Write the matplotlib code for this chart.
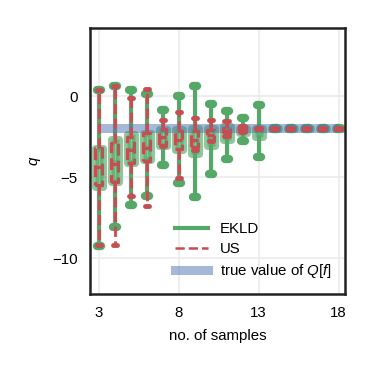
import numpy as np
import matplotlib
matplotlib.use("Agg")
import matplotlib.pyplot as plt
from matplotlib.lines import Line2D

plt.rcParams['font.family'] = ['Liberation Sans', 'DejaVu Sans']
plt.rcParams['mathtext.fontset'] = 'custom'
plt.rcParams['mathtext.rm'] = 'Liberation Sans'
plt.rcParams['mathtext.it'] = 'Liberation Sans:italic'

# number of samples
n_samples = [3, 4, 5, 6, 7, 8, 9, 10, 11, 12, 13, 14, 15, 16, 17, 18]

# EKLD box statistics
ekld_max = [0.36, 0.6, 0.36, 0.15, -0.83, -0.01, 0.6, -0.5, -0.9, -1.35, -0.52, -1.95, -1.95, -1.95, -1.95, -1.95]
ekld_q3 = [-3.2, -2.65, -2.35, -2.25, -2.05, -2.05, -1.95, -1.95, -1.85, -1.95, -1.95, -1.98, -1.98, -1.98, -1.98, -1.98]
ekld_med = [-4.4, -4.0, -3.2, -3.1, -2.6, -2.7, -2.8, -2.5, -2.2, -2.1, -2.2, -2.0, -2.0, -2.0, -2.0, -2.0]
ekld_q1 = [-5.6, -5.3, -4.15, -3.95, -3.1, -3.3, -3.6, -3.1, -2.7, -2.25, -2.5, -2.02, -2.02, -2.02, -2.02, -2.02]
ekld_min = [-9.23, -8.07, -6.7, -6.18, -4.23, -5.36, -6.25, -4.82, -3.88, -2.75, -3.78, -2.05, -2.05, -2.05, -2.05, -2.05]

# US box statistics
us_max = [0.36, 0.63, -0.11, 0.44, -1.45, -1.0, -1.35, -1.45, -1.55, -1.85, -1.95, -1.98, -1.98, -1.98, -1.98, -1.98]
us_q3 = [-3.2, -2.9, -2.5, -2.3, -2.05, -2.15, -2.15, -2.1, -1.95, -1.92, -1.97, -1.99, -1.99, -1.99, -1.99, -1.99]
us_med = [-4.4, -4.2, -3.3, -3.2, -2.5, -2.7, -2.7, -2.4, -2.15, -2.05, -2.0, -2.0, -2.0, -2.0, -2.0, -2.0]
us_q1 = [-5.5, -5.3, -4.1, -4.0, -3.0, -3.25, -3.15, -2.7, -2.3, -2.15, -2.05, -2.01, -2.01, -2.01, -2.01, -2.01]
us_min = [-9.2, -9.17, -6.14, -6.76, -3.06, -5.05, -3.3, -2.8, -2.44, -2.2, -2.05, -2.02, -2.02, -2.02, -2.02, -2.02]

true_value = -1.95

green = '#55A868'
red = '#C44E52'
blue = '#4C72B0'


def make_stats(lo, q1, med, q3, hi):
    return [dict(whislo=a, q1=b, med=c, q3=d, whishi=e, fliers=[])
            for a, b, c, d, e in zip(lo, q1, med, q3, hi)]


fig = plt.figure(figsize=(3.73, 3.73), dpi=100)
ax = fig.add_axes([0.241, 0.212, 0.684, 0.713])

ax.grid(color='#ebebeb', lw=1.2)
ax.set_axisbelow(True)

# EKLD boxes
ax.bxp(make_stats(ekld_min, ekld_q1, ekld_med, ekld_q3, ekld_max),
       positions=n_samples, widths=0.5, capwidths=0.25,
       patch_artist=True, showfliers=False, manage_ticks=False,
       boxprops=dict(facecolor=green, edgecolor=green, alpha=0.65,
                     linewidth=5, joinstyle='round'),
       whiskerprops=dict(color=green, linewidth=3, solid_capstyle='round'),
       capprops=dict(color=green, linewidth=6, solid_capstyle='round'),
       medianprops=dict(color=green, linewidth=2, alpha=0.5),
       zorder=2)

# true value
ax.plot([n_samples[0], n_samples[-1]], [true_value, true_value],
        color=blue, alpha=0.5, lw=6.5, solid_capstyle='butt', zorder=3)

# US boxes
ax.bxp(make_stats(us_min, us_q1, us_med, us_q3, us_max),
       positions=n_samples, widths=0.45, capwidths=0.27,
       showfliers=False, manage_ticks=False,
       boxprops=dict(color=red, linewidth=2.3, linestyle='--'),
       whiskerprops=dict(color=red, linewidth=2, linestyle='--'),
       capprops=dict(color=red, linewidth=3.5, solid_capstyle='round'),
       medianprops=dict(color=red, linewidth=2.3, linestyle='--'),
       zorder=4)

ax.set_xlim(2.45, 18.4)
ax.set_ylim(-12.2, 4.2)
ax.set_xticks([3, 8, 13, 18])
ax.set_yticks([0, -5, -10])
ax.tick_params(length=0, labelsize=10.8, pad=9)
ax.set_xlabel('no. of samples', fontsize=10.8, labelpad=6)
ax.set_ylabel('$q$', fontsize=10.8, labelpad=6)

for s in ax.spines.values():
    s.set_linewidth(1.8)
    s.set_color('#222222')

handles = [Line2D([], [], color=green, lw=3),
           Line2D([], [], color=red, lw=1.8, linestyle='--'),
           Line2D([], [], color=blue, alpha=0.5, lw=6.5)]
ax.legend(handles, ['EKLD', 'US', 'true value of $Q[f]$'],
          loc='lower right', frameon=False, fontsize=10.8,
          handlelength=2.2, labelspacing=0.4)

fig.savefig('out.png', dpi=100)
